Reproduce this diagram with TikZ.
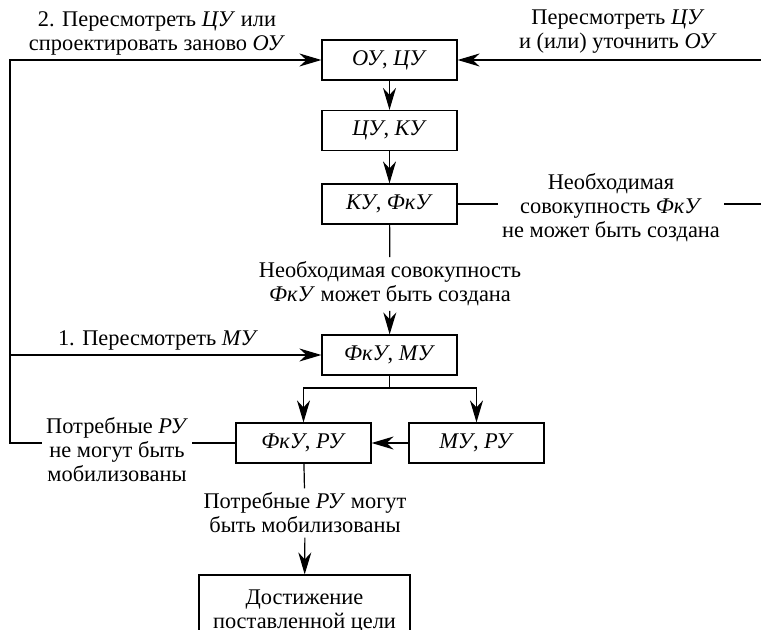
\documentclass[tikz,border=0pt]{standalone}
\usepackage{fontspec}
\setmainfont{LiberationSerif}[Extension=.ttf, UprightFont=*-Regular, ItalicFont=*-Italic, BoldFont=*-Bold, BoldItalicFont=*-BoldItalic]
\usetikzlibrary{arrows.meta}
\newcommand{\uz}[1]{\textit{#1}}

\begin{document}
\begin{tikzpicture}[x=0.5pt, y=-0.5pt, line width=0.6pt, font=\fontsize{11.2}{12}\selectfont,
  >={Stealth[length=11pt, width=6.5pt, inset=3.5pt]},
  blk/.style={draw, minimum width=67.5pt, minimum height=20pt, inner sep=2pt},
  lbl/.style={align=center, inner sep=2pt}]

  \useasboundingbox (0, 0) rectangle (761, 630);

  \node [blk] (ou) at (389.5, 60) {\uz{ОУ}, \uz{ЦУ}};
  \node [blk] (cu) at (389.5, 130.5) {\uz{ЦУ}, \uz{КУ}};
  \node [blk] (ku) at (389.5, 204) {\uz{КУ}, \uz{ФкУ}};
  \node [blk] (fm) at (389.5, 355) {\uz{ФкУ}, \uz{МУ}};
  \node [blk] (fr) at (303.5, 443) {\uz{ФкУ}, \uz{РУ}};
  \node [blk] (mr) at (476.5, 443) {\uz{МУ}, \uz{РУ}};
  \node [blk, align=center, minimum width=105.5pt, minimum height=36pt] (goal) at (304.5, 611)
    {Достижение\\поставленной цели};

  \node [lbl] (t2) at (157, 33) {2. Пересмотреть \uz{ЦУ} или\\спроектировать заново \uz{ОУ}};
  \node [lbl] (tr) at (618, 32) {Пересмотреть \uz{ЦУ}\\и (или) уточнить \uz{ОУ}};
  \node [lbl] (tn) at (611, 208) {Необходимая\\совокупность \uz{ФкУ}\\не может быть создана};
  \node [lbl] (ty) at (390, 284) {Необходимая совокупность\\\uz{ФкУ} может быть создана};
  \node [lbl] (t1) at (158, 340) {1. Пересмотреть \uz{МУ}};
  \node [lbl] (tp) at (117, 450) {Потребные \uz{РУ}\\не могут быть\\мобилизованы};
  \node [lbl] (tm) at (305, 513) {Потребные \uz{РУ} могут\\быть мобилизованы};

  \coordinate (l1) at (10, 60);
  \coordinate (l2) at (10, 443);
  \coordinate (r1) at (761, 60);
  \coordinate (r2) at (761, 204);
  \coordinate (br) at (389.5, 388);

  \draw [->] (ou) to (cu);
  \draw [->] (cu) to (ku);
  \draw (ku) to (ty);
  \draw [->] (ty) to (fm);
  \draw (fm) to (br);
  \draw [->] (br) -| (fr);
  \draw [->] (br) -| (mr);
  \draw [->] (mr) to (fr);
  \draw (fr) to (tm);
  \draw [->] (tm) to (goal);

  \draw (fr.west) to (fr.west -| tp.east);
  \draw [->] (tp.west |- fr.west) -- (l2) -- (l1) -- (ou.west);
  \draw [->] (l1 |- fm.west) to (fm.west);

  \draw (ku.east) to (ku.east -| tn.west);
  \draw (tn.east |- ku.east) to (r2);
  \draw [->] (r1) to (ou.east);

\end{tikzpicture}
\end{document}
